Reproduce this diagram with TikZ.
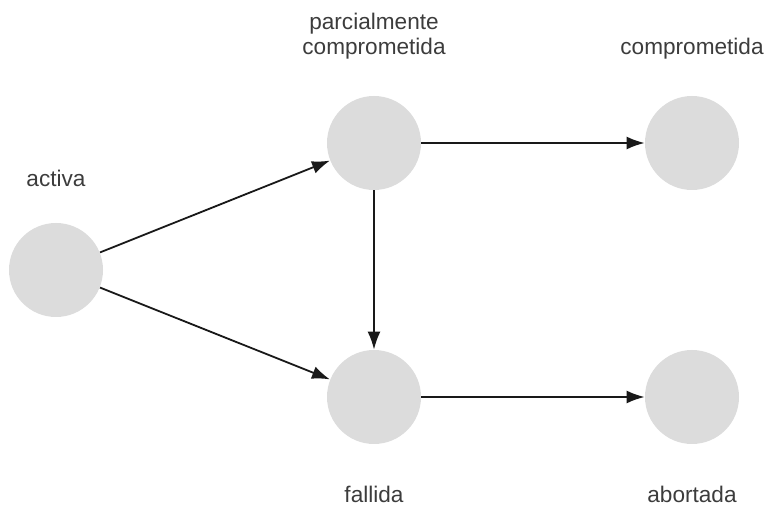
\documentclass[tikz,border=0pt]{standalone}
\usepackage{fontspec}
\setmainfont{Liberation Sans}
\usetikzlibrary{arrows.meta,positioning}
\definecolor{estadogris}{HTML}{DCDCDC}
\definecolor{textogris}{HTML}{3C3C3C}

\begin{document}
\begin{tikzpicture}[%
x=0.5pt,y=-0.5pt,
estado/.style={circle,fill=estadogris,minimum size=47pt,inner sep=0pt},
etiqueta/.style={text=textogris,font=\fontsize{11.3}{12.5}\selectfont,align=center,inner sep=0pt},
flecha/.style={-{Latex[length=9pt,width=6.5pt]},line width=0.9pt,color=black!90}]
\useasboundingbox (0,0) rectangle (777,523);
% estados
\node [estado] (activa)  at (56,270)  {};
\node [estado] (parcial) at (374,143) {};
\node [estado] (compro)  at (692,143) {};
\node [estado] (fallida) at (374,397) {};
\node [estado] (aborta)  at (692,397) {};
% etiquetas
\node [etiqueta,anchor=base] (l-activa)  at (56,187)  {activa};
\node [etiqueta,anchor=south] (l-parcial) at (374,60) {parcialmente\\comprometida};
\node [etiqueta,anchor=base] (l-compro)  at (692,55)  {comprometida};
\node [etiqueta,anchor=base] (l-fallida) at (374,503) {fallida};
\node [etiqueta,anchor=base] (l-aborta)  at (692,503) {abortada};
% transiciones
\draw [flecha] (activa)  -- (parcial);
\draw [flecha] (activa)  -- (fallida);
\draw [flecha] (parcial) -- (compro);
\draw [flecha] (parcial) -- (fallida);
\draw [flecha] (fallida) -- (aborta);
\end{tikzpicture}
\end{document}
